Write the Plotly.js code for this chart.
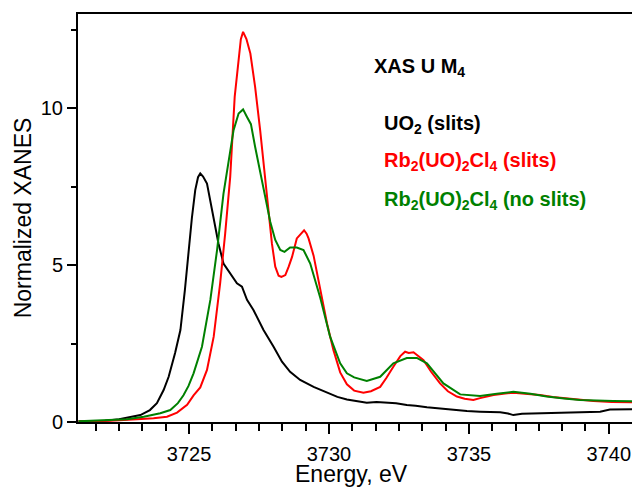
<!DOCTYPE html>
<html>
<head>
<meta charset="utf-8">
<script src="https://cdn.plot.ly/plotly-3.0.1.min.js"></script>
<style>
  html, body { margin: 0; padding: 0; background: #ffffff; overflow: hidden; }
  #chart { width: 632px; height: 487px; }
</style>
</head>
<body>
<div id="chart"></div>
<script>
// U M4-edge XANES spectra (normalized)

// UO2 measured with slits
const energyUO2 = [3721.05, 3722.0, 3722.5, 3722.8, 3723.26, 3723.6, 3723.85, 3724.09, 3724.27, 3724.5,
  3724.69, 3724.85, 3724.98, 3725.1, 3725.22, 3725.32, 3725.40, 3725.5, 3725.64, 3725.88,
  3726.05, 3726.23, 3726.47, 3726.71, 3726.89, 3727.07, 3727.30, 3727.66, 3728.02, 3728.32,
  3728.61, 3728.97, 3729.45, 3729.93, 3730.3, 3730.64, 3731.0, 3731.35, 3731.7, 3732.07,
  3732.4, 3732.78, 3733.1, 3733.5, 3733.85, 3734.21, 3734.6, 3734.93, 3735.4, 3735.8,
  3736.12, 3736.4, 3736.59, 3736.9, 3737.3, 3737.9, 3738.5, 3739.1, 3739.69, 3740.04, 3740.9];
const xanesUO2 = [0.02, 0.04, 0.09, 0.15, 0.22, 0.38, 0.6, 1.02, 1.44, 2.2,
  2.93, 4.2, 5.48, 6.5, 7.39, 7.8, 7.92, 7.82, 7.6, 6.54,
  5.69, 5.05, 4.74, 4.42, 4.31, 3.89, 3.57, 2.93, 2.40, 1.92,
  1.60, 1.34, 1.12, 0.94, 0.8, 0.72, 0.66, 0.61, 0.64, 0.63,
  0.6, 0.54, 0.52, 0.47, 0.44, 0.40, 0.38, 0.35, 0.33, 0.32,
  0.31, 0.27, 0.22, 0.26, 0.27, 0.28, 0.28, 0.3, 0.33, 0.40, 0.41];

// Rb2(UO)2Cl4 measured with slits
const energyRbSlits = [3721.05, 3722.18, 3723.14, 3723.73, 3724.21, 3724.57, 3724.93, 3725.16, 3725.4, 3725.64,
  3725.88, 3726.11, 3726.29, 3726.47, 3726.63, 3726.73, 3726.85, 3726.93, 3727.05, 3727.19,
  3727.36, 3727.54, 3727.72, 3727.88, 3727.96, 3728.08, 3728.2, 3728.3, 3728.44, 3728.56,
  3728.68, 3728.85, 3729.0, 3729.11, 3729.2, 3729.27, 3729.45, 3729.69, 3729.93, 3730.16,
  3730.4, 3730.64, 3730.9, 3731.23, 3731.5, 3731.83, 3732.05, 3732.3, 3732.55, 3732.72,
  3732.85, 3733.02, 3733.2, 3733.38, 3733.65, 3733.97, 3734.25, 3734.57, 3734.85, 3735.16,
  3735.4, 3735.88, 3736.3, 3736.59, 3737.0, 3737.54, 3738.0, 3738.5, 3739.0, 3739.45, 3740.1, 3740.9];
const xanesRbSlits = [0.02, 0.04, 0.09, 0.12, 0.17, 0.30, 0.55, 0.85, 1.1, 1.66,
  2.72, 4.42, 6.0, 7.81, 10.36, 11.3, 12.2, 12.43, 12.2, 11.74,
  10.68, 9.30, 7.81, 6.5, 5.69, 4.95, 4.66, 4.62, 4.68, 4.95,
  5.26, 5.85, 6.0, 6.11, 6.0, 5.85, 5.3, 4.2, 3.14, 2.29,
  1.58, 1.2, 1.0, 0.93, 0.98, 1.12, 1.4, 1.76, 2.1, 2.24,
  2.2, 2.22, 2.1, 1.97, 1.6, 1.23, 0.98, 0.81, 0.74, 0.70,
  0.76, 0.86, 0.91, 0.93, 0.9, 0.86, 0.8, 0.75, 0.7, 0.67, 0.64, 0.63];

// Rb2(UO)2Cl4 measured without slits
const energyRbNoSlits = [3721.05, 3722.0, 3722.78, 3723.38, 3723.97, 3724.33, 3724.6, 3724.8, 3724.98, 3725.16,
  3725.46, 3725.76, 3726.0, 3726.23, 3726.41, 3726.59, 3726.77, 3726.93, 3727.07, 3727.21,
  3727.36, 3727.54, 3727.72, 3727.9, 3728.08, 3728.26, 3728.41, 3728.61, 3728.85, 3729.09,
  3729.33, 3729.69, 3730.04, 3730.4, 3730.64, 3730.9, 3731.35, 3731.83, 3732.3, 3732.78,
  3733.14, 3733.5, 3734.09, 3734.69, 3735.4, 3736.0, 3736.59, 3737.2, 3737.78, 3738.4,
  3738.97, 3740.16, 3740.9];
const xanesRbNoSlits = [0.02, 0.05, 0.09, 0.17, 0.28, 0.38, 0.6, 0.85, 1.15, 1.55,
  2.40, 3.89, 5.48, 7.28, 8.34, 9.3, 9.83, 9.96, 9.72, 9.49,
  8.77, 8.03, 7.18, 6.38, 5.8, 5.48, 5.42, 5.56, 5.56, 5.48,
  5.05, 3.95, 2.72, 1.87, 1.55, 1.42, 1.31, 1.44, 1.87, 2.04,
  2.04, 1.87, 1.23, 0.88, 0.83, 0.9, 0.96, 0.9, 0.81, 0.75,
  0.70, 0.67, 0.66];

const FONT = 'Liberation Sans, Arial, sans-serif';
const X_RANGE = [3721.03, 3740.83];

const traces = [
  { x: energyUO2, y: xanesUO2, name: 'UO2 (slits)', xaxis: 'x', yaxis: 'y',
    mode: 'lines', line: { color: '#000000', width: 2 } },
  { x: energyRbSlits, y: xanesRbSlits, name: 'Rb2(UO)2Cl4 (slits)', xaxis: 'x', yaxis: 'y',
    mode: 'lines', line: { color: '#ff0000', width: 2 } },
  // drawn on the overlaid label axis (same range), which keeps that axis rendered
  { x: energyRbNoSlits, y: xanesRbNoSlits, name: 'Rb2(UO)2Cl4 (no slits)', xaxis: 'x2', yaxis: 'y',
    mode: 'lines', line: { color: '#008000', width: 2 } }
];

const labelFont = (color) => ({ family: FONT, size: 20, color: color });

const layout = {
  width: 632,
  height: 487,
  margin: { l: 78, r: 0, t: 14, b: 65 },
  paper_bgcolor: '#ffffff',
  plot_bgcolor: '#ffffff',
  showlegend: false,
  font: { family: FONT, color: '#000000' },
  // frame, major and minor tick marks
  xaxis: {
    range: X_RANGE,
    tickmode: 'linear', tick0: 3725, dtick: 5,
    ticks: 'outside', ticklen: 10, tickwidth: 2, tickcolor: '#000000',
    minor: { ticks: 'outside', ticklen: 7, tickwidth: 2, tickcolor: '#000000', tick0: 3725, dtick: 5 / 6 },
    showline: true, linewidth: 2, linecolor: '#000000', mirror: true,
    showgrid: false, zeroline: false,
    showticklabels: false
  },
  // tick labels, set a little further below the frame
  xaxis2: {
    overlaying: 'x', anchor: 'y', side: 'bottom',
    range: X_RANGE,
    tickmode: 'linear', tick0: 3725, dtick: 5,
    ticks: 'outside', ticklen: 14, tickwidth: 0, tickcolor: 'rgba(0,0,0,0)',
    showline: false, showgrid: false, zeroline: false,
    tickfont: { family: FONT, size: 20, color: '#000000' }
  },
  yaxis: {
    range: [0, 13],
    tickmode: 'linear', tick0: 0, dtick: 5,
    ticks: 'outside', ticklen: 9, tickwidth: 2, tickcolor: '#000000',
    minor: { ticks: 'outside', ticklen: 5, tickwidth: 2, tickcolor: '#000000', tick0: 0, dtick: 2.5 },
    showline: true, linewidth: 2, linecolor: '#000000', mirror: false,
    showgrid: false, zeroline: false,
    tickfont: { family: FONT, size: 20, color: '#000000' },
    title: { text: 'Normalized XANES', font: { family: FONT, size: 23, color: '#000000' }, standoff: 3 }
  },
  annotations: [
    // x-axis title, placed at the very bottom of the figure
    { xref: 'paper', yref: 'paper', x: 0.4928, y: -0.127, xanchor: 'center', yanchor: 'middle',
      text: 'Energy, eV', showarrow: false, font: { family: FONT, size: 23, color: '#000000' } },
    { xref: 'paper', yref: 'paper', x: 0.530, y: 0.870, xanchor: 'left', yanchor: 'middle',
      text: '<b>XAS U M<sub>4</sub></b>', showarrow: false, font: labelFont('#000000') },
    { xref: 'paper', yref: 'paper', x: 0.548, y: 0.729, xanchor: 'left', yanchor: 'middle',
      text: '<b>UO<sub>2</sub> (slits)</b>', showarrow: false, font: labelFont('#000000') },
    { xref: 'paper', yref: 'paper', x: 0.548, y: 0.639, xanchor: 'left', yanchor: 'middle',
      text: '<b>Rb<sub>2</sub>(UO)<sub>2</sub>Cl<sub>4</sub> (slits)</b>', showarrow: false, font: labelFont('#ff0000') },
    { xref: 'paper', yref: 'paper', x: 0.548, y: 0.543, xanchor: 'left', yanchor: 'middle',
      text: '<b>Rb<sub>2</sub>(UO)<sub>2</sub>Cl<sub>4</sub> (no slits)</b>', showarrow: false, font: labelFont('#008000') }
  ]
};

Plotly.newPlot('chart', traces, layout, { displayModeBar: false, staticPlot: true });
</script>
</body>
</html>
